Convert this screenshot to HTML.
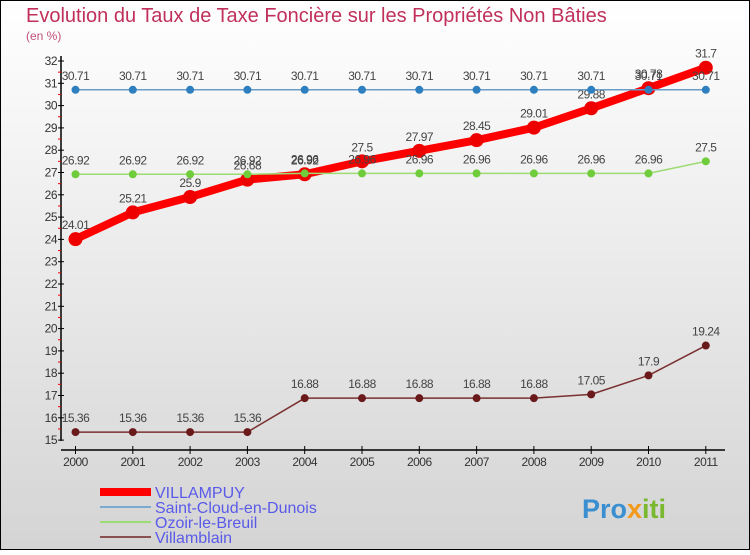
<!DOCTYPE html>
<html><head><meta charset="utf-8"><style>
html,body{margin:0;padding:0;}
body{width:750px;height:550px;overflow:hidden;font-family:"Liberation Sans",sans-serif;}
svg text{font-family:"Liberation Sans",sans-serif;}
</style></head><body>
<svg id="chart" width="750" height="550" xmlns="http://www.w3.org/2000/svg">
<defs><linearGradient id="bg" x1="0" y1="0" x2="0" y2="1"><stop offset="0" stop-color="#ffffff"/><stop offset="1" stop-color="#d4d4d4"/></linearGradient></defs>
<rect x="0.5" y="0.5" width="749" height="549" fill="url(#bg)" stroke="#000"/>
<text x="26" y="22" font-size="20" fill="#c0305a">Evolution du Taux de Taxe Foncière sur les Propriétés Non Bâties</text>
<text x="26" y="40" font-size="12" fill="#c0507a">(en %)</text>
<g id="axes"></g><g id="series"></g><g id="legend"></g>
<text x="582" y="518" font-size="27" font-weight="bold" fill="#3a8fd0">Pro<tspan fill="#f39a1a">x</tspan><tspan fill="#7ab830">iti</tspan></text>
</svg>
<script>
const years=[2000,2001,2002,2003,2004,2005,2006,2007,2008,2009,2010,2011];
const yTicks=[15,16,17,18,19,20,21,22,23,24,25,26,27,28,29,30,31,32];
const villampuy=[24.01,25.21,25.9,26.68,26.92,27.5,27.97,28.45,29.01,29.88,30.78,31.7];
const saintCloud=[30.71,30.71,30.71,30.71,30.71,30.71,30.71,30.71,30.71,30.71,30.71,30.71];
const ozoir=[26.92,26.92,26.92,26.92,26.96,26.96,26.96,26.96,26.96,26.96,26.96,27.5];
const villamblain=[15.36,15.36,15.36,15.36,16.88,16.88,16.88,16.88,16.88,17.05,17.9,19.24];
const NS="http://www.w3.org/2000/svg";
const xs=i=>75.5+i*57.3;
const ys=v=>61+(32-v)*22.3;
function mk(t,a,p){const e=document.createElementNS(NS,t);for(const k in a)e.setAttribute(k,a[k]);p.appendChild(e);return e;}
const ax=document.getElementById('axes');
let e=mk('line',{x1:61,y1:56,x2:61,y2:441,stroke:'#000','stroke-width':1.5},ax);


e=mk('line',{x1:61,y1:450,x2:725,y2:450,stroke:'#000','stroke-width':1.5},ax);


yTicks.forEach(v=>{
 mk('line',{x1:58,y1:ys(v),x2:64,y2:ys(v),stroke:'#000'},ax);
 if(v<32) mk('line',{x1:58,y1:ys(v+0.5),x2:61,y2:ys(v+0.5),stroke:'#e00'},ax);
 const t=mk('text',{x:57,y:ys(v)+4,'font-size':12,'text-anchor':'end',fill:'#333','letter-spacing':'-0.5'},ax);
 t.textContent=v;
 
 
});
years.forEach((y,i)=>{
 mk('line',{x1:xs(i),y1:446,x2:xs(i),y2:454,stroke:'#000'},ax);
 const t=mk('text',{x:xs(i),y:466,'font-size':12,'text-anchor':'middle',fill:'#333','letter-spacing':'-0.5'},ax);
 t.textContent=y;
 
 
});
const S=document.getElementById('series');
function series(vals,name,line,dot,w,r){
 const g=mk('g',{},S);
 
 
 mk('polyline',{points:vals.map((v,i)=>xs(i)+','+ys(v)).join(' '),fill:'none',stroke:line,'stroke-width':w,'stroke-linejoin':'round'},g);
 vals.forEach((v,i)=>{
  const c=mk('circle',{cx:xs(i),cy:ys(v),r:r,fill:dot},g);
  
  
  const t=mk('text',{x:xs(i),y:ys(v)-10,'font-size':12,'text-anchor':'middle',fill:'#444','letter-spacing':'-0.5'},g);
  t.textContent=v;
  
  
 });
}
series(villampuy,'villampuy','#f00','#e00',8,7);
series(saintCloud,'saint-cloud','#6a9cc8','#2e7fbf',1.5,4);
series(ozoir,'ozoir','#9ddc72','#6fcc3a',1.5,4);
series(villamblain,'villamblain','#7a3030','#6a1a1a',1.5,4);
const L=document.getElementById('legend');
[['VILLAMPUY','#f00',8],['Saint-Cloud-en-Dunois','#7aaad0',2],['Ozoir-le-Breuil','#9ddc72',2],['Villamblain','#8a5050',2]].forEach((d,i)=>{
 const y=492+i*15;
 const g=mk('g',{},L);
 
 
 mk('line',{x1:100,y1:y,x2:151,y2:y,stroke:d[1],'stroke-width':d[2]},g);
 const t=mk('text',{x:155,y:y+6,'font-size':16,fill:'#5a5ae8'},g);
 t.textContent=d[0];
});
</script>
</body></html>
